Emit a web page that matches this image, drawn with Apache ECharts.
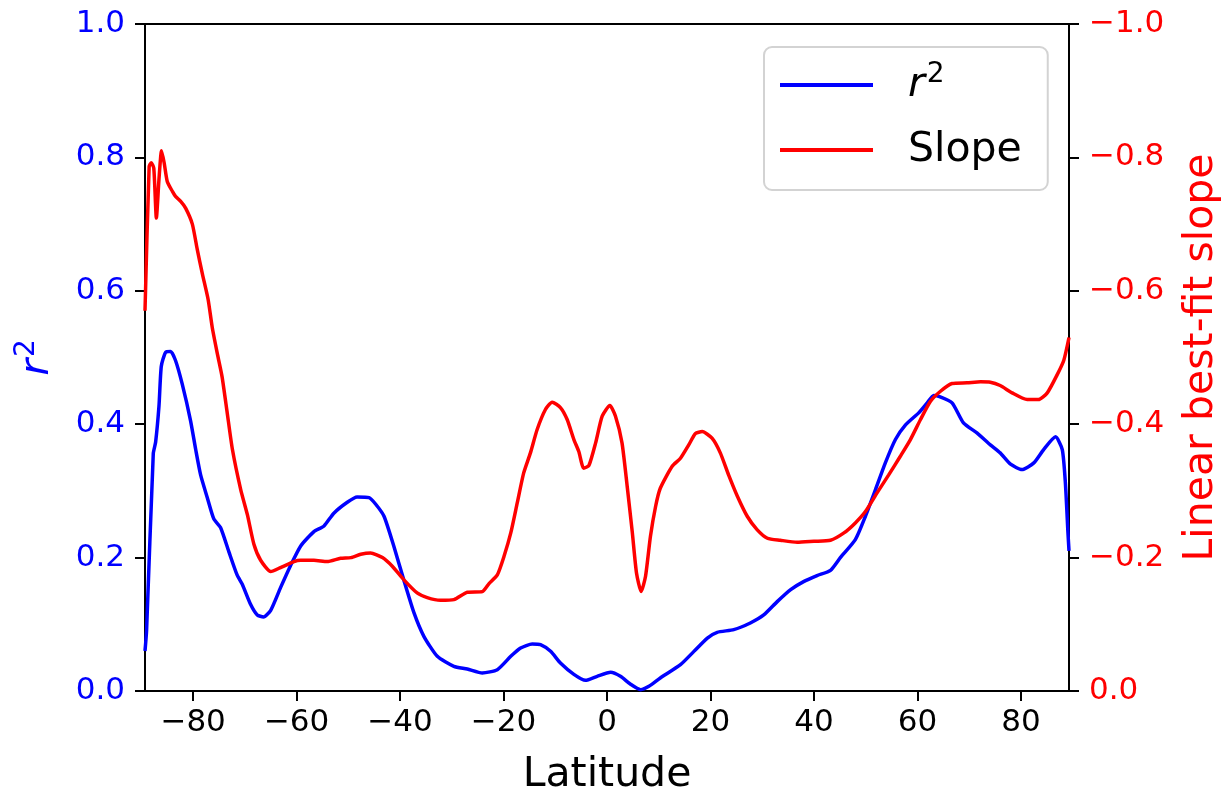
<!DOCTYPE html>
<html>
<head>
<meta charset="utf-8">
<script src="https://cdn.jsdelivr.net/npm/echarts@6/dist/echarts.min.js"></script>
<style>
  html, body { margin: 0; padding: 0; background: #fff; }
  #chart { width: 1231px; height: 797px; }
</style>
</head>
<body>
<div id="chart"></div>
<script>
// Latitude ticks along the bottom axis
const latTicks = [-80, -60, -40, -20, 0, 20, 40, 60, 80];

// r^2 of the fit, by latitude
const latR2 = [
  -89.3, -89.0, -87.7, -87.25, -86.6, -86.15, -85.3, -84.35, -83.4, -82.1,
  -80.5, -79.5, -78.55, -77.3, -76.0, -74.7, -73.1, -71.5, -70.5, -68.9,
  -67.6, -66.4, -65.0, -63.1, -61.2, -59.2, -56.65, -54.7, -52.8, -50.2,
  -48.3, -46.0, -44.7, -43.1, -41.2, -39.3, -37.3, -35.4, -32.8, -29.6,
  -27.0, -24.1, -21.2, -18.6, -16.7, -14.45, -12.85, -10.9, -9.0, -6.4,
  -4.15, -1.9, 0.7, 2.6, 4.5, 6.5, 8.1, 10.3, 14.2, 16.8,
  19.4, 21.3, 24.5, 27.7, 30.3, 32.9, 35.5, 38.0, 40.6, 43.2,
  45.1, 48.0, 49.95, 51.9, 53.8, 55.75, 57.7, 60.25, 61.9, 63.15,
  64.4, 66.7, 68.9, 71.5, 74.1, 76.0, 78.0, 80.2, 82.5, 84.4,
  86.7, 88.0, 88.6, 89.1, 89.3
];
const r2Vals = [
  0.06, 0.09, 0.356, 0.373, 0.427, 0.487, 0.508, 0.509, 0.4955, 0.46,
  0.4055, 0.362, 0.324, 0.291, 0.258, 0.245, 0.209, 0.174, 0.160, 0.130,
  0.114, 0.111, 0.121, 0.155, 0.1875, 0.2175, 0.239, 0.2475, 0.2666, 0.283,
  0.291, 0.290, 0.280, 0.262, 0.217, 0.167, 0.117, 0.082, 0.052, 0.037,
  0.033, 0.027, 0.032, 0.052, 0.0645, 0.0705, 0.0695, 0.0595, 0.042, 0.025,
  0.016, 0.022, 0.028, 0.022, 0.0105, 0.002, 0.007, 0.0195, 0.0395, 0.0594,
  0.0794, 0.088, 0.092, 0.102, 0.114, 0.134, 0.152, 0.164, 0.173, 0.181,
  0.200, 0.227, 0.262, 0.302, 0.342, 0.377, 0.399, 0.417, 0.432, 0.443,
  0.441, 0.432, 0.402, 0.387, 0.369, 0.357, 0.340, 0.332, 0.342, 0.362,
  0.381, 0.362, 0.312, 0.237, 0.21
];

// Linear best-fit slope, by latitude
const latSlope = [
  -89.3, -88.5, -88.1, -87.6, -87.1, -86.6, -86.1, -85.6, -85.0, -84.0,
  -83.4, -82.4, -81.45, -80.15, -79.2, -78.2, -77.1, -76.3, -75.3, -74.4,
  -73.4, -72.4, -70.8, -69.5, -68.25, -66.95, -65.0, -63.1, -60.5, -59.2,
  -56.65, -54.1, -51.5, -49.5, -47.6, -45.7, -43.4, -41.5, -39.3, -36.7,
  -34.75, -32.2, -29.6, -27.0, -24.1, -22.8, -21.2, -19.9, -18.6, -17.35,
  -16.1, -14.8, -13.5, -11.9, -10.6, -9.0, -7.7, -6.4, -5.45, -4.5,
  -3.5, -2.2, -0.93, 0.55, 1.64, 2.9, 3.9, 4.9, 5.7, 6.6,
  7.45, 8.4, 9.4, 10.3, 12.6, 14.2, 15.8, 17.1, 18.4, 20.3,
  21.9, 23.5, 25.2, 27.1, 29.0, 31.0, 33.5, 36.75, 40.0, 43.2,
  45.8, 48.0, 49.95, 52.2, 54.45, 56.7, 58.65, 60.6, 62.5, 64.4,
  66.7, 69.6, 72.2, 74.1, 76.0, 78.3, 81.2, 83.4, 85.1, 87.0,
  88.3, 89.3
];
const slopeVals = [
  -0.57, -0.786, -0.792, -0.784, -0.709, -0.767, -0.81, -0.792, -0.764, -0.749,
  -0.7415, -0.734, -0.724, -0.70, -0.662, -0.625, -0.587, -0.545, -0.505, -0.471,
  -0.4165, -0.362, -0.302, -0.264, -0.220, -0.196, -0.179, -0.185, -0.194, -0.196,
  -0.196, -0.194, -0.199, -0.200, -0.205, -0.207, -0.200, -0.187, -0.167, -0.147,
  -0.140, -0.136, -0.137, -0.148, -0.149, -0.161, -0.174, -0.202, -0.237, -0.282,
  -0.327, -0.357, -0.392, -0.422, -0.433, -0.425, -0.407, -0.377, -0.359, -0.334,
  -0.338, -0.372, -0.412, -0.428, -0.412, -0.372, -0.307, -0.237, -0.177, -0.149,
  -0.172, -0.232, -0.277, -0.304, -0.337, -0.349, -0.369, -0.386, -0.389, -0.379,
  -0.357, -0.324, -0.292, -0.262, -0.242, -0.229, -0.226, -0.223, -0.2245, -0.226,
  -0.237, -0.252, -0.269, -0.297, -0.324, -0.352, -0.377, -0.407, -0.434, -0.449,
  -0.461, -0.462, -0.4635, -0.463, -0.458, -0.447, -0.437, -0.437, -0.447, -0.474,
  -0.496, -0.53
];

const BLUE = '#0000ff';
const RED = '#ff0000';
const FONT = 'DejaVu Sans';
const minus = v => String(v).replace('-', '\u2212');

const r2Data = latR2.map((x, i) => [x, r2Vals[i]]);
const slopeData = latSlope.map((x, i) => [x, slopeVals[i]]);

const axisLine = { show: true, onZero: false, lineStyle: { color: '#000', width: 2 } };
const axisTick = { show: true, inside: false, length: 10, lineStyle: { color: '#000', width: 2 } };

// italic r with a raised 2, used for the legend entry and the left axis title
const r2Rich = color => ({
  it: { fontFamily: FONT, fontSize: 41, fontStyle: 'italic', color: color },
  sup: { fontFamily: FONT, fontSize: 28, color: color, padding: [0, 0, 20, 2] }
});

const chart = echarts.init(document.getElementById('chart'), null, { renderer: 'canvas' });
chart.setOption({
  animation: false,
  backgroundColor: '#fff',
  textStyle: { fontFamily: FONT },
  grid: {
    left: 145, right: 162, top: 24, bottom: 106,
    outerBoundsMode: 'none',
    containLabel: false,
    show: true, borderColor: '#000', borderWidth: 2, backgroundColor: 'transparent'
  },
  legend: {
    orient: 'vertical',
    left: 764, top: 47,
    padding: [14, 26, 16, 16],
    itemGap: 17,
    itemWidth: 93, itemHeight: 4,
    icon: 'rect',
    backgroundColor: '#fff',
    borderColor: '#d3d3d3', borderWidth: 2, borderRadius: 8,
    textStyle: {
      fontFamily: FONT, fontSize: 41, color: '#000', lineHeight: 48,
      padding: [0, 0, 0, 30],
      rich: r2Rich('#000')
    },
    formatter: name => name === 'r2' ? '{it|r}{sup|2}' : name,
    data: ['r2', 'Slope']
  },
  xAxis: {
    type: 'value',
    min: -89.3, max: 89.3,
    name: 'Latitude',
    nameLocation: 'middle',
    nameGap: 64,
    nameTextStyle: { fontFamily: FONT, fontSize: 41, color: '#000' },
    axisLine, axisTick: Object.assign({}, axisTick, { customValues: latTicks }),
    axisLabel: {
      customValues: latTicks,
      fontFamily: FONT, fontSize: 31, color: '#000', margin: 16,
      formatter: v => minus(v)
    },
    splitLine: { show: false }
  },
  yAxis: [
    {
      type: 'value', position: 'left',
      min: 0, max: 1, interval: 0.2,
      name: '{it|r}{sup|2}',
      nameLocation: 'middle', nameRotate: 90, nameGap: 84,
      nameTextStyle: { color: BLUE, rich: r2Rich(BLUE) },
      axisLine, axisTick,
      axisLabel: {
        fontFamily: FONT, fontSize: 31, color: BLUE, margin: 20,
        formatter: v => v.toFixed(1)
      },
      splitLine: { show: false }
    },
    {
      type: 'value', position: 'right',
      min: -1, max: 0, interval: 0.2, inverse: true,
      name: 'Linear best-fit slope',
      nameLocation: 'middle', nameRotate: 90, nameGap: 112,
      nameTextStyle: { fontFamily: FONT, fontSize: 41, color: RED },
      axisLine, axisTick,
      axisLabel: {
        fontFamily: FONT, fontSize: 31, color: RED, margin: 20,
        formatter: v => minus(Math.abs(v) < 1e-9 ? '0.0' : v.toFixed(1))
      },
      splitLine: { show: false }
    }
  ],
  series: [
    {
      name: 'r2', type: 'line', yAxisIndex: 0,
      data: r2Data, color: BLUE,
      showSymbol: false, smooth: 0.2,
      lineStyle: { color: BLUE, width: 3.5 },
      z: 2
    },
    {
      name: 'Slope', type: 'line', yAxisIndex: 1,
      data: slopeData, color: RED,
      showSymbol: false, smooth: 0.2,
      lineStyle: { color: RED, width: 3.5 },
      z: 3
    }
  ]
});
</script>
</body>
</html>
